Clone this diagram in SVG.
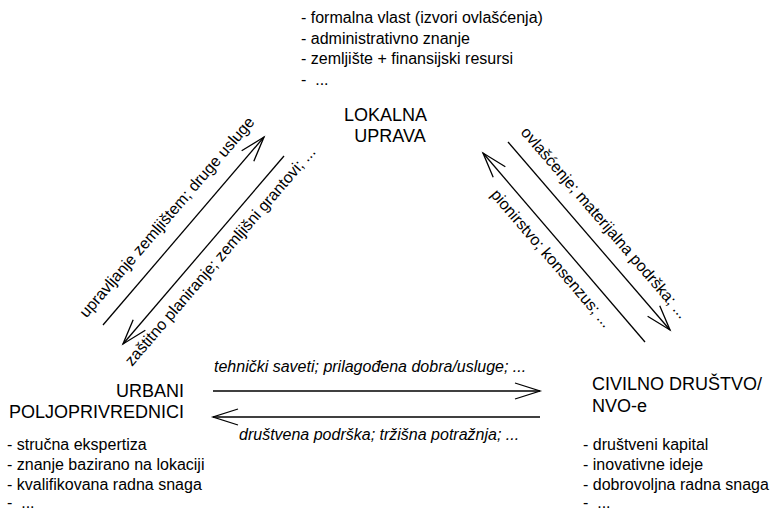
<svg xmlns="http://www.w3.org/2000/svg" width="776" height="512" viewBox="0 0 776 512">
<style>
text{font-family:"Liberation Sans",Arial,sans-serif;fill:#000}
.t{font-size:18px}
.b{font-size:16px}
.i{font-size:16px;font-style:italic}
.l{font-size:16px}
.c{stroke:#000;stroke-width:1.3;fill:none}
</style>
<defs>
<marker id="ah" viewBox="-27 -10 29 20" refX="0" refY="0" markerWidth="29" markerHeight="20" markerUnits="userSpaceOnUse" orient="auto" overflow="visible">
<path d="M-25,-8 L0,0 L-25,8" fill="none" stroke="#000" stroke-width="1.3"/>
</marker>
</defs>
<rect width="776" height="512" fill="#fff"/>
<g id="connectors">
<line class="c" x1="103" y1="325" x2="264" y2="137" marker-end="url(#ah)"/>
<line class="c" x1="284" y1="156" x2="123" y2="344" marker-end="url(#ah)"/>
<line class="c" x1="508" y1="142" x2="670" y2="330" marker-end="url(#ah)"/>
<line class="c" x1="645" y1="342" x2="483" y2="153" marker-end="url(#ah)"/>
<line class="c" x1="213" y1="391" x2="540" y2="391" marker-end="url(#ah)"/>
<line class="c" x1="540" y1="417" x2="213" y2="417" marker-end="url(#ah)"/>
<text class="l" text-anchor="middle" transform="translate(171,220.5) rotate(-49.3)">upravljanje zemljištem; druge usluge</text>
<text class="l" text-anchor="middle" transform="translate(224.1,259.7) rotate(-49.3)">zaštitno planiranje; zemljišni grantovi; ...</text>
<text class="l" text-anchor="middle" transform="translate(600.4,226.2) rotate(49.3)">ovlašćenje; materijalna podrška; ...</text>
<text class="l" text-anchor="middle" transform="translate(547.3,261.8) rotate(49.3)">pionirstvo; konsenzus; ...</text>
<text class="i" x="214" y="372">tehnički saveti; prilagođena dobra/usluge; ...</text>
<text class="i" x="239" y="440">društvena podrška; tržišna potražnja; ...</text>
</g>
<g id="lokalna-uprava">
<text class="b" x="301" y="23">- formalna vlast (izvori ovlašćenja)</text>
<text class="b" x="301" y="43.5">- administrativno znanje</text>
<text class="b" x="301" y="64">- zemljište + finansijski resursi</text>
<text class="b" x="301" y="85" xml:space="preserve">-  ...</text>
<text class="t" x="385.5" y="121" text-anchor="middle">LOKALNA</text>
<text class="t" x="390" y="142" text-anchor="middle">UPRAVA</text>
</g>
<g id="urbani-poljoprivrednici">
<text class="t" x="184" y="397" text-anchor="end">URBANI</text>
<text class="t" x="184" y="418" text-anchor="end">POLJOPRIVREDNICI</text>
<text class="b" x="7" y="450">- stručna ekspertiza</text>
<text class="b" x="7" y="470">- znanje bazirano na lokaciji</text>
<text class="b" x="7" y="490">- kvalifikovana radna snaga</text>
<text class="b" x="7" y="508" xml:space="preserve">-  ...</text>
</g>
<g id="civilno-drustvo">
<text class="t" x="592" y="390">CIVILNO DRUŠTVO/</text>
<text class="t" x="592" y="412">NVO-e</text>
<text class="b" x="583" y="450">- društveni kapital</text>
<text class="b" x="583" y="470">- inovativne ideje</text>
<text class="b" x="583" y="490">- dobrovoljna radna snaga</text>
<text class="b" x="583" y="508" xml:space="preserve">-  ...</text>
</g>
</svg>
